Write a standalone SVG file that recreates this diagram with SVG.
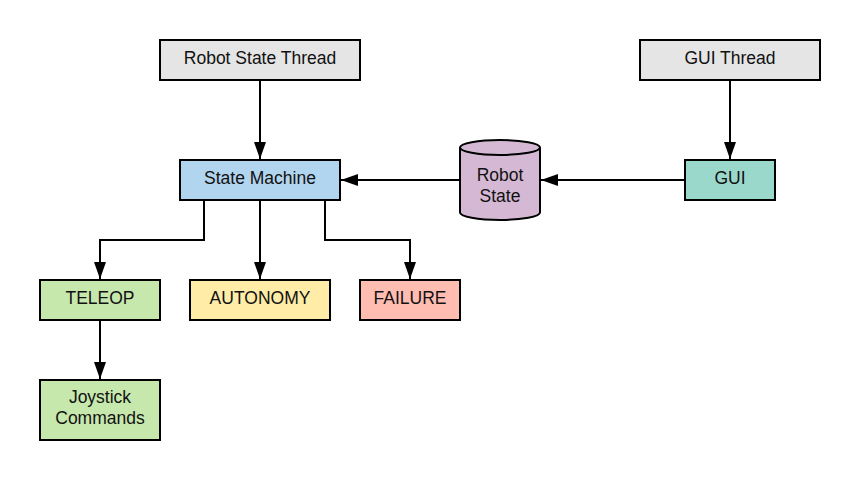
<svg xmlns="http://www.w3.org/2000/svg" width="860" height="480" viewBox="0 0 860 480">
<style>
.box{stroke:#000;stroke-width:2}
.t{font-family:"Liberation Sans",Arial,sans-serif;font-size:17.5px;fill:#111;text-anchor:middle;dominant-baseline:central}
.c{fill:none;stroke:#000;stroke-width:2}
</style>
<defs>
<marker id="ah" markerWidth="18" markerHeight="12" refX="17" refY="6" orient="auto" markerUnits="userSpaceOnUse">
<path d="M0,0 L17,6 L0,12 Z" fill="#000"/>
</marker>
</defs>
<rect width="860" height="480" fill="#fff"/>
<g id="connectors">
<path class="c" d="M260,80 V159" marker-end="url(#ah)"/>
<path class="c" d="M730,80 V159" marker-end="url(#ah)"/>
<path class="c" d="M685,180 H541" marker-end="url(#ah)"/>
<path class="c" d="M460,180 H341" marker-end="url(#ah)"/>
<path class="c" d="M204,200 V240 H100 V279" marker-end="url(#ah)"/>
<path class="c" d="M260,200 V279" marker-end="url(#ah)"/>
<path class="c" d="M325,200 V240 H410 V279" marker-end="url(#ah)"/>
<path class="c" d="M100,320 V379" marker-end="url(#ah)"/>
</g>
<g id="robot-state-thread">
<rect class="box" x="160" y="40" width="200" height="40" fill="#e5e5e5"/>
<text class="t" x="260" y="58">Robot State Thread</text>
</g>
<g id="gui-thread">
<rect class="box" x="640" y="40" width="180" height="40" fill="#e5e5e5"/>
<text class="t" x="730" y="58">GUI Thread</text>
</g>
<g id="state-machine">
<rect class="box" x="180" y="160" width="160" height="40" fill="#b2d5ef"/>
<text class="t" x="260" y="178">State Machine</text>
</g>
<g id="robot-state">
<path class="box" d="M460,147.5 V212.5 A40,7.5 0 0 0 540,212.5 V147.5 A40,7.5 0 0 0 460,147.5 Z" fill="#d5b9d4"/>
<path class="c" d="M460,147.5 A40,7.5 0 0 0 540,147.5"/>
<text class="t" x="500" y="175">Robot</text>
<text class="t" x="500" y="196">State</text>
</g>
<g id="gui">
<rect class="box" x="685" y="160" width="90" height="40" fill="#9ad8cb"/>
<text class="t" x="730" y="178">GUI</text>
</g>
<g id="teleop">
<rect class="box" x="40" y="280" width="120" height="40" fill="#c7e8ad"/>
<text class="t" x="100" y="298">TELEOP</text>
</g>
<g id="autonomy">
<rect class="box" x="190" y="280" width="140" height="40" fill="#ffeca7"/>
<text class="t" x="260" y="298">AUTONOMY</text>
</g>
<g id="failure">
<rect class="box" x="360" y="280" width="100" height="40" fill="#ffbcb1"/>
<text class="t" x="410" y="298">FAILURE</text>
</g>
<g id="joystick-commands">
<rect class="box" x="40" y="380" width="120" height="60" fill="#c7e8ad"/>
<text class="t" x="100" y="397">Joystick</text>
<text class="t" x="100" y="418">Commands</text>
</g>
</svg>
